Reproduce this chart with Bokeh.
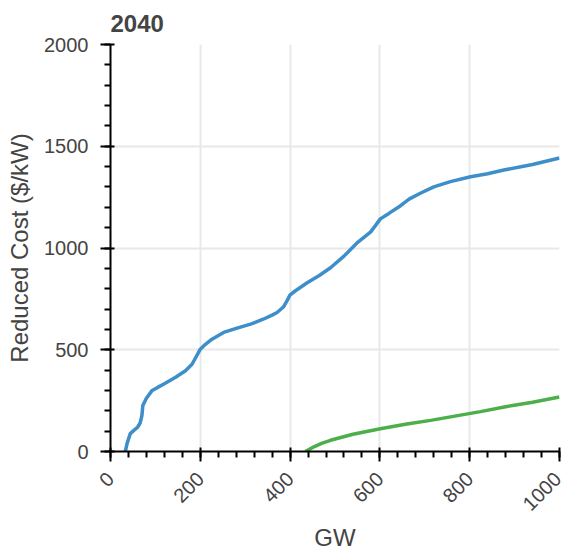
import math
from bokeh.plotting import figure
from bokeh.models import Range1d, SingleIntervalTicker, Title
from bokeh.embed import file_html
from bokeh.resources import INLINE

# ---- data ----
blue_gw = [33, 37, 44, 52, 60, 66, 70, 72, 80, 92, 105, 119, 145, 167, 182, 200, 208,
           226, 252, 280, 312, 340, 360, 371, 385, 393, 400, 412, 438, 465, 490, 520,
           549, 579, 590, 601, 620, 646, 665, 690, 720, 757, 802, 840, 876, 940, 1000]
blue_cost = [0, 40, 88, 104, 118, 140, 177, 226, 262, 298, 315, 332, 365, 397, 430, 503, 520,
             552, 585, 605, 626, 650, 670, 683, 710, 740, 770, 790, 829, 865, 903, 960,
             1025, 1078, 1110, 1143, 1170, 1208, 1240, 1269, 1300, 1326, 1350, 1365, 1383, 1410, 1442]

green_gw = [434, 453, 470, 490, 540, 601, 660, 713, 770, 824, 880, 940, 1000]
green_cost = [0, 23, 40, 55, 85, 112, 135, 153, 175, 196, 220, 242, 268]

title_text = "2040"
x_label = "GW"
y_label = "Reduced Cost ($/kW)"

FONT = "Liberation Sans"
TXT = "#444444"

p = figure(width=562, height=553, output_backend="svg", toolbar_location=None,
           x_range=Range1d(0, 1000), y_range=Range1d(0, 2000), title=title_text,
           min_border_left=110, min_border_top=44, min_border_bottom=100, min_border_right=3,
           x_axis_label=x_label, y_axis_label=y_label)

p.outline_line_color = None
p.background_fill_color = "white"
p.border_fill_color = "white"

p.title.text_font = FONT
p.title.text_font_size = "24px"
p.title.text_font_style = "bold"
p.title.text_color = TXT
p.title.align = "left"

# thin spacer between the frame and the title to lift the title a little
p.add_layout(Title(text=" ", text_font_size="6px", standoff=0, text_color="white"), "above")

p.xaxis.ticker = SingleIntervalTicker(interval=200, num_minor_ticks=5)
p.yaxis.ticker = SingleIntervalTicker(interval=500, num_minor_ticks=5)
p.xaxis.major_label_orientation = math.pi / 4

for ax in (p.xaxis[0], p.yaxis[0]):
    ax.axis_line_width = 2
    ax.axis_line_color = "black"
    ax.major_tick_line_width = 2
    ax.major_tick_line_color = "black"
    ax.minor_tick_line_width = 2
    ax.minor_tick_line_color = "black"
    ax.major_tick_out = 10
    ax.major_tick_in = 4
    ax.minor_tick_out = 6
    ax.minor_tick_in = 0
    ax.major_label_text_font = FONT
    ax.major_label_text_font_size = "20px"
    ax.major_label_text_color = TXT
    ax.major_label_standoff = 12
    ax.axis_label_text_font = FONT
    ax.axis_label_text_font_size = "24px"
    ax.axis_label_text_font_style = "normal"
    ax.axis_label_text_color = TXT
    ax.axis_label_standoff = 8

p.xaxis.axis_label_standoff = 4
p.xaxis.major_label_standoff = 14

p.grid.grid_line_color = "#e8e8e8"
p.grid.grid_line_width = 2

p.line(blue_gw, blue_cost, line_color="#3d8ec9", line_width=3.5)
p.line(green_gw, green_cost, line_color="#4daf4a", line_width=3.5)

open("out.html", "w").write(file_html(p, INLINE))
